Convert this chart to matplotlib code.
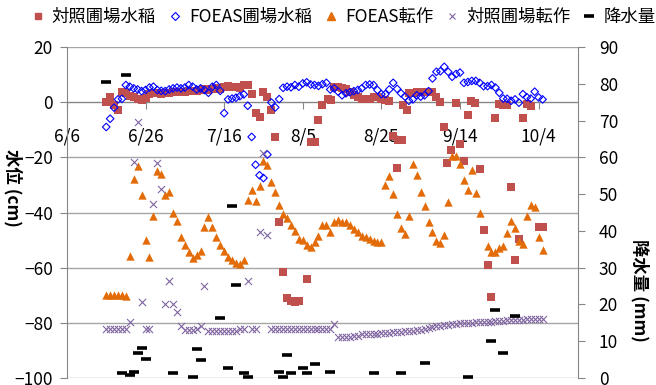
import numpy as np
import matplotlib.pyplot as plt
from matplotlib.lines import Line2D

plt.rcParams['font.family'] = ['Noto Sans CJK JP', 'DejaVu Sans']

# x = days after 6/6
tick_days = [0, 20, 40, 60, 80, 100, 120]
tick_labels = ['6/6', '6/26', '7/16', '8/5', '8/25', '9/14', '10/4']

# 対照圃場水稲
ctrl_rice_day = [10, 11, 12, 13, 14, 15, 16, 17, 18, 19, 20, 21, 22, 23, 24, 25, 26, 27, 28, 29,
                 30, 31, 32, 33, 34, 35, 36, 37, 38, 39, 40, 41, 42, 43, 44, 45, 46, 47, 48, 49,
                 50, 51, 52, 53, 54, 55, 56, 57, 58, 59, 61, 62, 63, 64, 65, 66.5, 67.3, 68, 69, 70,
                 71, 72, 73, 74, 75, 76, 77, 78, 79, 80, 81, 82, 83, 83.9, 84.3, 85.2, 85.6, 86.4, 87, 88,
                 89, 90, 91, 92, 93, 94, 95, 96, 96.8, 97.8, 99, 100, 100.9, 102, 102.8, 103.8, 105, 106,
                 107, 108, 109, 110, 111, 112, 113, 114, 115, 116, 117, 118, 120, 121]
ctrl_rice_val = [0, 2, -1.2, -2.8, 3.5, 3.2, 2.4, 1.8, 1.2, 0.8, 1.4, 3.0, 3.2, 3.4, 3.0, 3.2, 3.4, 3.6, 3.8, 3.8,
                 3.6, 4.0, 4.2, 4.0, 4.4, 4.6, 4.4, 4.8, 5.0, 4.8, 5.6, 5.8, 5.4, 5.6, 5.0, 6.2, 6.2, 3.0, -4.1, -5.3,
                 3.5, 1.9, -2.9, -12.6, -43.5, -61.7, -70.8, -72, -72.3, -72, -64.1, -14.6, -14.4, -6.3, -0.9, 1.3, 0.7, 5.6, 5.5, 5.3,
                 4.6, 3.8, 2.5, 1.9, 1.3, 1.3, 1.3, 1.9, 1.9, 1.0, 0.8, 0.5, -12.4, -23.7, -13.6, -13.8, -1.1, -2.9, 3.2, 3.4,
                 3.8, 3.8, 3.8, 3.8, 3.8, 1.9, 0.1, -9, -22, -17.5, -0.2, -15.3, -21.3, -4.7, 0.5, -0.2, -24.1, -46.3,
                 -58.9, -70.5, -5.6, -0.7, -1.1, -1.1, -30.8, -57.2, -49.6, -5.9, -0.5, -1.5, -45.1, -45.3]

# FOEAS圃場水稲 (daily from day 10)
foeas_rice_start = 10
foeas_rice_val = [-9, -6, -2, 1, 1.2, 6.2, 5.6, 5, 4.6, 4, 4.4, 5.3, 5.6, 4.4, 4.1, 4, 4.6, 5, 5.3, 5,
                  5.3, 6.2, 5.6, 4.6, 5, 4.4, 3.4, 5.6, 6.2, 4.1, -4, 1, 1.3, 1.6, 2.2, 2.8, -1.3, -12.6, -22.7, -26.5,
                  -27.5, -19, -0.1, -1.9, 1.1, 5.2, 5.6, 5.4, 6.2, 5.6, 6.8, 7.2, 6.4, 6.2, 5.9, 6.5, 7, 4.6, 5, 3.8,
                  2.5, 3.2, 3.6, 4, 4.4, 5, 6.2, 6.4, 6.2, 4.4, 2.9, 2.9, 4.6, 7, 4.8, 3.2, 2, 0.5, 1, 2.5,
                  2, 2.5, 4, 8.6, 11, 11.2, 12.8, 11, 9.2, 10.2, 10.7, 7, 7.3, 7.7, 7.7, 7, 5.8, 5.8, 6.2, 5.3,
                  3.4, 1.3, 1.2, 0.5, 1, -0.2, 2.9, 1.8, 1.3, 3.8, 1.7, 1]

# FOEAS転作
foeas_conv_day = list(range(10, 106)) + list(range(107, 122))
foeas_conv_val = [-70, -70, -70, -70, -70, -70.3, -55.6, -27.8, -23.3, -33.8, -49.8, -56.2, -41.1, -25.1, -25.9, -33.8,
                  -32.6, -40.1, -42.9, -48.7, -51.6, -54.4, -56.5, -55.3, -53.8, -45.3, -41.5, -45.3, -49, -51.6, -54.1, -56,
                  -57.1, -58.4, -58.7, -57.2, -35.4, -31.8, -35.9, -30.4, -21.3, -22.9, -29, -32.6, -37.1, -40.7, -41.9, -44.7,
                  -46.8, -49.6, -49.9, -51.6, -52.4, -50.8, -48.4, -44.4, -44.7, -47.2, -43.5, -42.7, -43.5, -43.5, -44.7, -45.9,
                  -47.2, -48.4, -49, -49.6, -50.2, -50.8, -50.8, -30.2, -26.9, -33.2, -40.5, -45.6, -47.7, -41.1, -22.3, -26.5,
                  -32.6, -37.8, -43.5, -47.2, -50.2, -51.2, -48, -36.2, -19.6, -19.6, -22.5, -28.1, -32, -24.5, -33, -40.2,
                  -52, -54.4, -54.4, -52.8, -52, -47.5, -42.9, -45.6, -50.2, -51.4, -41.1, -37.1, -38.1, -49, -53.6]

# 対照圃場転作 (daily from day 10)
ctrl_conv_start = 10
ctrl_conv_val = [-82.3, -82.3, -82.3, -82.3, -82.3, -82.3, -79.5, -21.7, -7.2, -72.6, -82.3, -82.3, -36.8, -22, -31.4, -73,
                 -64.7, -73, -75.9, -81.1, -82.7, -82.7, -82.7, -82.3, -81, -66.5, -83, -83, -83, -83, -83, -83,
                 -83, -83, -82.3, -82.3, -65, -82.3, -82.3, -47.2, -18.6, -48, -82.3, -82.3, -82.3, -82.3, -82.3, -82.3,
                 -82.3, -82.3, -82.3, -82.3, -82.3, -82.3, -82.3, -82.3, -82.3, -82.3, -80.5, -85.2, -85.2, -85, -85, -84.8,
                 -84.6, -84.2, -84, -84, -83.9, -83.9, -83.8, -83.6, -83.5, -83.4, -83.3, -83.2, -83, -83, -82.8, -82.6,
                 -82.5, -82.3, -82, -81.6, -81.3, -81, -80.8, -80.6, -80.4, -80.3, -80.2, -80, -80, -79.9, -79.8, -79.7,
                 -79.6, -79.5, -79.5, -79.4, -79.3, -79.2, -79.1, -79, -79, -78.9, -78.8, -78.7, -78.7, -78.6, -78.5, -78.5]

# 降水量 (mm)
rain_day = [10, 14, 15, 16, 17, 18, 19, 20, 27, 32, 33, 34, 39, 41, 42, 43, 45, 46, 54, 55,
            56, 57, 60, 61, 63, 67, 78, 85, 91, 102, 108, 109, 111, 114]
rain_val = [80.5, 1.3, 82.5, 0.8, 1.7, 6.7, 8.2, 5.3, 1.3, 0.2, 7.9, 4.9, 16.3, 2.7, 46.9, 25.4, 1.3, 0.2, 1.7, 0.2,
            6.3, 1.3, 2.7, 1.3, 3.8, 1.7, 1.3, 1.3, 4.2, 0.2, 10.2, 18.6, 6.8, 16.8]

foeas_rice_day = np.arange(len(foeas_rice_val)) + foeas_rice_start
ctrl_conv_day = np.arange(len(ctrl_conv_val)) + ctrl_conv_start

c_red = '#C0504D'
c_blue = '#0000FF'
c_orange = '#E36C09'
c_purple = '#8064A2'
c_grid = '#A6A6A6'
c_axis = '#868686'

fig = plt.figure(figsize=(6.56, 3.85), dpi=100)
ax = fig.add_axes([0.102, 0.018, 0.779, 0.860])
ax2 = ax.twinx()

ax.scatter(ctrl_rice_day, ctrl_rice_val, marker='s', s=34, color=c_red, linewidths=0, zorder=3)
ax.scatter(foeas_rice_day, foeas_rice_val, marker='D', s=15, facecolors='none', edgecolors=c_blue,
           linewidths=0.8, zorder=4)
ax.scatter(foeas_conv_day, foeas_conv_val, marker='^', s=36, color=c_orange, linewidths=0, zorder=5)
ax.scatter(ctrl_conv_day, ctrl_conv_val, marker='x', s=26, color=c_purple, linewidths=0.8, zorder=6)
ax2.scatter(rain_day, rain_val, marker='_', s=45, color='black', linewidths=2.6, zorder=7, clip_on=False)

ax.set_xlim(0, 130)
ax.set_ylim(-100, 20)
ax.set_yticks(np.arange(-100, 21, 20))
ax2.set_ylim(0, 90)
ax2.set_yticks(np.arange(0, 91, 10))
ax.set_xticks(tick_days)
ax.set_xticklabels(tick_labels)

ax.yaxis.grid(True, color=c_grid, lw=1)
ax.set_axisbelow(True)
ax.spines['bottom'].set_position(('data', 0))
ax.spines['bottom'].set_color(c_axis)
ax.spines['left'].set_color(c_axis)
ax.spines['top'].set_visible(False)
ax.spines['right'].set_visible(False)
for s in ['top', 'bottom', 'left']:
    ax2.spines[s].set_visible(False)
ax2.spines['right'].set_color(c_axis)

ax.tick_params(axis='x', direction='out', length=5, color=c_axis, pad=13, labelsize=12.5)
ax.tick_params(axis='y', direction='out', length=5, color=c_axis, pad=5, labelsize=12.5)
ax2.tick_params(axis='y', direction='out', length=5, color=c_axis, pad=10, labelsize=12.5)

ax.set_ylabel('水位 (cm)', fontsize=12.5, fontweight='bold', rotation=-90, va='center', ha='center')
ax.yaxis.set_label_coords(-0.106, 0.574)
ax2.set_ylabel('降水量 (mm)', fontsize=12.5, fontweight='bold', rotation=-90, va='center', ha='center')
ax2.yaxis.set_label_coords(1.121, 0.266)

handles = [
    Line2D([], [], ls='none', marker='s', ms=5, color=c_red),
    Line2D([], [], ls='none', marker='D', ms=4, mfc='none', mec=c_blue, mew=0.8),
    Line2D([], [], ls='none', marker='^', ms=6, color=c_orange),
    Line2D([], [], ls='none', marker='x', ms=5, color=c_purple, mew=0.8),
    Line2D([], [], ls='none', marker='_', ms=7, color='black', mew=2.6),
]
labels = ['対照圃場水稲', 'FOEAS圃場水稲', 'FOEAS転作', '対照圃場転作', '降水量']
fig.legend(handles, labels, loc='upper center', bbox_to_anchor=(0.523, 1.02), ncol=5, frameon=False,
           fontsize=12.5, handlelength=0.8, handletextpad=0.4, columnspacing=0.7)

fig.savefig('out.png', dpi=100)
